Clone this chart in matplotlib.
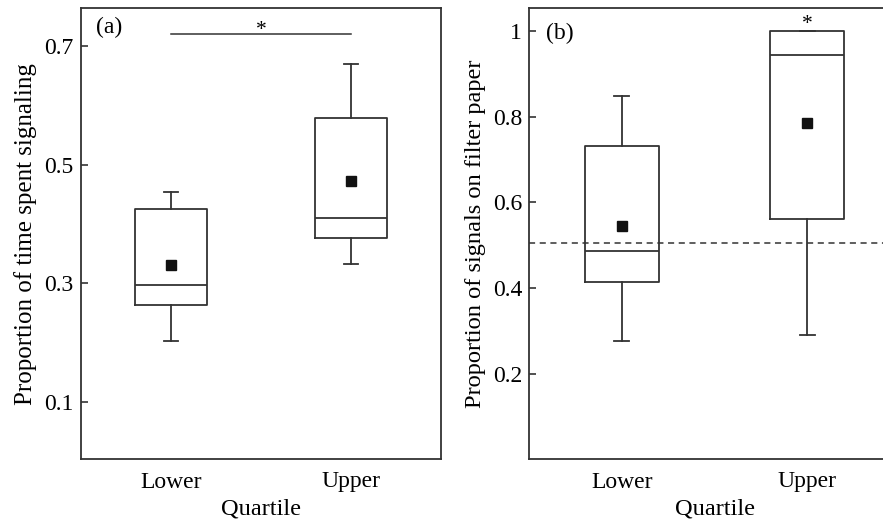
import matplotlib
matplotlib.use("Agg")
import matplotlib.pyplot as plt

plt.rcParams['font.family'] = ['Liberation Serif', 'DejaVu Serif']

quartiles = ['Lower', 'Upper']

# Panel (a): proportion of time spent signaling
time_whislo = [0.203, 0.333]
time_q1 = [0.264, 0.377]
time_med = [0.297, 0.410]
time_q3 = [0.426, 0.579]
time_whishi = [0.455, 0.670]
time_mean = [0.331, 0.473]
time_ticks = [0.1, 0.3, 0.5, 0.7]
time_tick_labels = ['0.1', '0.3', '0.5', '0.7']

# Panel (b): proportion of signals on filter paper
paper_whislo = [0.276, 0.290]
paper_q1 = [0.413, 0.562]
paper_med = [0.487, 0.944]
paper_q3 = [0.732, 1.000]
paper_whishi = [0.848, 1.000]
paper_mean = [0.545, 0.785]
paper_ticks = [0.2, 0.4, 0.6, 0.8, 1.0]
paper_tick_labels = ['0.2', '0.4', '0.6', '0.8', '1']
null_value = 0.505

LC = '#333333'
FS = 17
LFS = 17.6

fig = plt.figure(figsize=(8.83, 5.25), dpi=100)
W, H = 883, 525
ax1 = fig.add_axes([80.7 / W, (H - 459) / H, (441 - 80.7) / W, (459 - 8.3) / H])
ax2 = fig.add_axes([529 / W, (H - 459) / H, (900 - 529) / W, (459 - 8.3) / H])


def make_stats(whislo, q1, med, q3, whishi, mean):
    return [dict(whislo=a, q1=b, med=c, q3=d, whishi=e, mean=f, fliers=[])
            for a, b, c, d, e, f in zip(whislo, q1, med, q3, whishi, mean)]


def draw(ax, stats, means):
    pos = [1, 2]
    ax.bxp(stats, positions=pos, widths=0.4, capwidths=0.08, showfliers=False,
           showmeans=False,
           boxprops=dict(color=LC, linewidth=1.3),
           whiskerprops=dict(color=LC, linewidth=1.3),
           capprops=dict(color=LC, linewidth=1.3),
           medianprops=dict(color=LC, linewidth=1.3))
    ax.plot(pos, means, linestyle='none', marker='s', markersize=7.2,
            color='#111111', zorder=5)
    ax.set_xticks(pos)
    ax.set_xticklabels(quartiles, fontsize=FS)
    ax.tick_params(axis='x', length=0, pad=9)
    ax.tick_params(axis='y', direction='in', length=5, width=1.2, color=LC,
                   labelsize=FS, pad=5)
    for s in ax.spines.values():
        s.set_color(LC)
        s.set_linewidth(1.3)
    ax.set_xlabel('Quartile', fontsize=LFS, labelpad=4)


draw(ax1, make_stats(time_whislo, time_q1, time_med, time_q3, time_whishi, time_mean), time_mean)
ax1.set_xlim(0.5, 2.5)
ax1.set_ylim(0.004, 0.764)
ax1.set_yticks(time_ticks)
ax1.set_yticklabels(time_tick_labels)
ax1.set_ylabel('Proportion of time spent signaling', fontsize=LFS + 0.4, labelpad=5)
ax1.plot([1, 2], [0.721, 0.721], color=LC, linewidth=1.1)
ax1.text(1.5, 0.727, '*', ha='center', va='center', fontsize=FS - 1.5)
ax1.text(0.585, 0.732, '(a)', ha='left', va='center', fontsize=FS)

draw(ax2, make_stats(paper_whislo, paper_q1, paper_med, paper_q3, paper_whishi, paper_mean), paper_mean)
ax2.axhline(null_value, color=LC, linewidth=1.1, linestyle=(0, (4, 3)))
ax2.set_xlim(0.5, 2.5)
ax2.set_ylim(0.001, 1.053)
ax2.set_yticks(paper_ticks)
ax2.set_yticklabels(paper_tick_labels)
ax2.set_ylabel('Proportion of signals on filter paper', fontsize=LFS, labelpad=5)
ax2.text(2, 1.016, '*', ha='center', va='center', fontsize=FS - 1.5)
ax2.text(0.59, 0.995, '(b)', ha='left', va='center', fontsize=FS)

fig.savefig('out.png', dpi=100)
